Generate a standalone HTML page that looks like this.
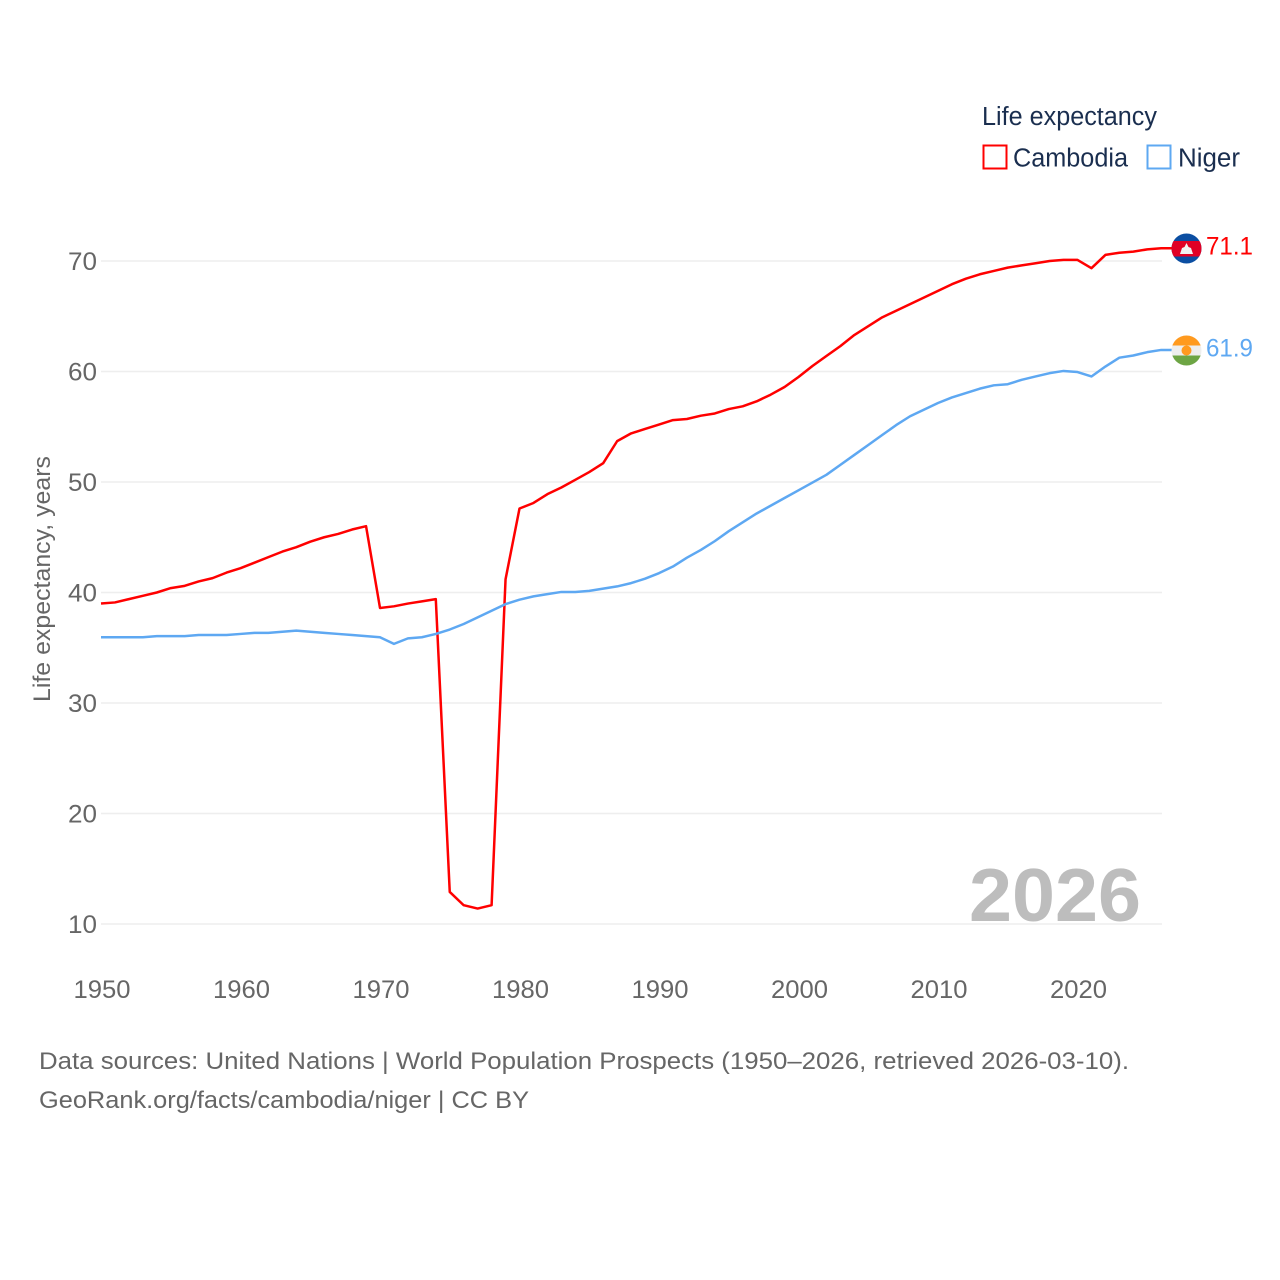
<!DOCTYPE html>
<html lang="en">
<head>
<meta charset="utf-8">
<title>Life expectancy: Cambodia and Niger</title>
<style>
html,body{margin:0;padding:0;background:#fff;}
svg{display:block;font-family:"Liberation Sans",sans-serif;}
</style>
</head>
<body>
<svg id="chart" xmlns="http://www.w3.org/2000/svg" width="1280" height="1280" viewBox="0 0 1280 1280">
  <rect width="1280" height="1280" fill="#fff"/>
  <g id="grid"></g>
  <g id="yticks"></g>
  <g id="xticks"></g>
  <text transform="translate(50,702) rotate(-90)" font-size="24.5" fill="#666" textLength="246" lengthAdjust="spacingAndGlyphs">Life expectancy, years</text>
  <text x="969" y="921" font-size="75" font-weight="700" fill="#bdbdbd" textLength="172" lengthAdjust="spacingAndGlyphs">2026</text>
  <g id="series"></g>
  <g>
    <clipPath id="clip-kh"><circle cx="1186.5" cy="248.5" r="15"/></clipPath>
    <g clip-path="url(#clip-kh)">
      <rect x="1170" y="232" width="33" height="33" fill="#0b4ea2"/>
      <rect x="1170" y="241" width="33" height="15.5" fill="#e00025"/>
      <polygon points="1180,254 1193,254 1191,248 1188.5,247 1186.5,243 1184.5,247 1182,248" fill="#f2f2f2"/>
    </g>
  </g>
  <g>
    <clipPath id="clip-ne"><circle cx="1186.5" cy="350.5" r="15"/></clipPath>
    <g clip-path="url(#clip-ne)">
      <rect x="1170" y="334" width="33" height="33" fill="#eeeeee"/>
      <rect x="1170" y="334" width="33" height="11.5" fill="#ff9a1f"/>
      <rect x="1170" y="355.5" width="33" height="11.5" fill="#6da544"/>
      <circle cx="1186.5" cy="350.5" r="5" fill="#ff9a1f"/>
    </g>
  </g>
  <text x="1206" y="254.5" font-size="25" fill="#ff0000" textLength="47" lengthAdjust="spacingAndGlyphs">71.1</text>
  <text x="1206" y="356.5" font-size="25" fill="#5ea8f2" textLength="47" lengthAdjust="spacingAndGlyphs">61.9</text>
  <g>
    <text x="982" y="125" font-size="25.5" fill="#1a2e4f" textLength="175" lengthAdjust="spacingAndGlyphs">Life expectancy</text>
    <rect x="983.5" y="145.5" width="23" height="23" fill="#fff" stroke="#ff0000" stroke-width="2"/>
    <text x="1013" y="166.5" font-size="25.5" fill="#1a2e4f" textLength="115" lengthAdjust="spacingAndGlyphs">Cambodia</text>
    <rect x="1147.5" y="145.5" width="23" height="23" fill="#fff" stroke="#5ea8f2" stroke-width="2"/>
    <text x="1178" y="166.5" font-size="25.5" fill="#1a2e4f" textLength="62" lengthAdjust="spacingAndGlyphs">Niger</text>
  </g>
  <text x="39" y="1069" font-size="24.5" fill="#666" textLength="1090" lengthAdjust="spacingAndGlyphs">Data sources: United Nations | World Population Prospects (1950–2026, retrieved 2026-03-10).</text>
  <text x="39" y="1108" font-size="24.5" fill="#666" textLength="490" lengthAdjust="spacingAndGlyphs">GeoRank.org/facts/cambodia/niger | CC BY</text>
</svg>
<script>
const startYear = 1950;
const yTickValues = [10, 20, 30, 40, 50, 60, 70];
const xTickValues = [1950, 1960, 1970, 1980, 1990, 2000, 2010, 2020];
const cambodia = [39.0,39.1,39.4,39.7,40.0,40.4,40.6,41.0,41.3,41.8,42.2,42.7,43.2,43.7,44.1,44.6,45.0,45.3,45.7,46.0,38.6,38.75,39.0,39.2,39.4,12.9,11.7,11.4,11.7,41.2,47.6,48.1,48.9,49.5,50.2,50.9,51.7,53.7,54.4,54.8,55.2,55.6,55.7,56.0,56.2,56.6,56.85,57.3,57.9,58.6,59.5,60.5,61.4,62.3,63.3,64.1,64.9,65.5,66.1,66.7,67.3,67.9,68.4,68.8,69.1,69.4,69.6,69.8,70.0,70.1,70.1,69.35,70.55,70.75,70.85,71.05,71.15];
const niger = [35.95,35.95,35.95,35.95,36.05,36.05,36.05,36.15,36.15,36.15,36.25,36.35,36.35,36.45,36.55,36.45,36.35,36.25,36.15,36.05,35.95,35.35,35.85,35.95,36.25,36.65,37.15,37.75,38.35,38.95,39.35,39.65,39.85,40.05,40.05,40.15,40.35,40.55,40.85,41.25,41.75,42.35,43.15,43.85,44.65,45.55,46.35,47.15,47.85,48.55,49.25,49.95,50.65,51.55,52.45,53.35,54.25,55.15,55.95,56.55,57.15,57.65,58.05,58.45,58.75,58.85,59.25,59.55,59.85,60.05,59.95,59.55,60.45,61.25,61.45,61.75,61.95];

const NS = 'http://www.w3.org/2000/svg';
function xScale(year) { return 101 + (year - 1950) * 13.95; }
function yScale(v) { return 924 - (v - 10) * 11.05; }
function make(tag, parent, attrs, text) {
  const el = document.createElementNS(NS, tag);
  for (const k in attrs) el.setAttribute(k, attrs[k]);
  if (text !== undefined) el.textContent = text;
  document.getElementById(parent).appendChild(el);
  return el;
}

yTickValues.forEach(function (v) {
  const line = make('line', 'grid', {x1: 101, x2: 1162, y1: yScale(v), y2: yScale(v), stroke: '#eeeeee', 'stroke-width': 1.5});
  
  
  const label = make('text', 'yticks', {x: 97, y: yScale(v) + 9, 'font-size': 25, fill: '#666', 'text-anchor': 'end', textLength: 29, lengthAdjust: 'spacingAndGlyphs'}, String(v));
  
  
});

xTickValues.forEach(function (y) {
  const label = make('text', 'xticks', {x: xScale(y) + 1, y: 998, 'font-size': 25, fill: '#666', 'text-anchor': 'middle', textLength: 57, lengthAdjust: 'spacingAndGlyphs'}, String(y));
  
  
});

function seriesPath(values) {
  return values.map(function (v, i) {
    return (i ? 'L' : 'M') + xScale(startYear + i).toFixed(2) + ' ' + yScale(v).toFixed(2);
  }).join(' ');
}

const cambodiaLine = make('path', 'series', {d: seriesPath(cambodia) + ' H1172', fill: 'none', stroke: '#ff0000', 'stroke-width': 2.5, 'stroke-linejoin': 'round'});



const nigerLine = make('path', 'series', {d: seriesPath(niger) + ' H1172', fill: 'none', stroke: '#5ea8f2', 'stroke-width': 2.5, 'stroke-linejoin': 'round'});


</script>
</body>
</html>
